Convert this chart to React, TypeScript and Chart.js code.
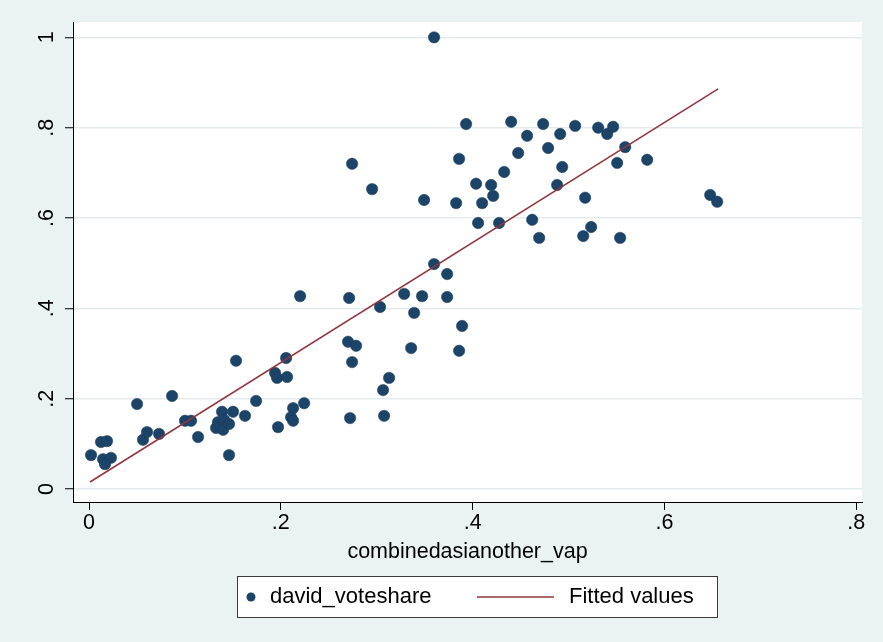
import React, { useEffect, useRef } from 'react';
import { Chart, registerables } from 'chart.js';

Chart.register(...registerables);

// combinedasianother_vap (x) and david_voteshare (y)
const voteX = [
  0.0021, 0.0125, 0.0188, 0.0146, 0.0229, 0.0167, 0.0501, 0.0563, 0.0605, 0.073,
  0.0866, 0.1001, 0.1064, 0.1137, 0.1345, 0.1387, 0.1408, 0.1325, 0.1398, 0.1502,
  0.1627, 0.1742, 0.146, 0.1533, 0.194, 0.1961, 0.2065, 0.2055, 0.1971, 0.2128,
  0.2107, 0.2128, 0.2243, 0.2201, 0.2722, 0.2712, 0.2701, 0.2785, 0.2743, 0.3035,
  0.2743, 0.2952, 0.3077, 0.3066, 0.3129, 0.3286, 0.339, 0.3359, 0.3473, 0.3598,
  0.3494, 0.3598, 0.3734, 0.3734, 0.389, 0.3859, 0.3859, 0.3932, 0.3828, 0.4036,
  0.4193, 0.4214, 0.4099, 0.4057, 0.4276, 0.4329, 0.4402, 0.4475, 0.4568, 0.4621,
  0.4735, 0.4787, 0.4694, 0.4913, 0.4934, 0.4881, 0.5069, 0.5173, 0.5153, 0.5236,
  0.5309, 0.5403, 0.5465, 0.5538, 0.5507, 0.5591, 0.582, 0.6477, 0.655, 0.146,
];
const voteY = [
  0.075, 0.104, 0.106, 0.066, 0.069, 0.055, 0.188, 0.109, 0.126, 0.122,
  0.206, 0.151, 0.151, 0.115, 0.148, 0.171, 0.153, 0.135, 0.131, 0.171,
  0.162, 0.195, 0.075, 0.284, 0.257, 0.246, 0.248, 0.29, 0.137, 0.179,
  0.159, 0.151, 0.19, 0.427, 0.157, 0.423, 0.326, 0.317, 0.281, 0.403,
  0.72, 0.664, 0.162, 0.219, 0.246, 0.432, 0.39, 0.312, 0.427, 1.0,
  0.64, 0.498, 0.476, 0.425, 0.361, 0.306, 0.731, 0.808, 0.633, 0.676,
  0.673, 0.649, 0.633, 0.589, 0.589, 0.702, 0.813, 0.744, 0.782, 0.596,
  0.808, 0.755, 0.556, 0.786, 0.713, 0.673, 0.804, 0.645, 0.56, 0.58,
  0.8, 0.786, 0.802, 0.556, 0.722, 0.757, 0.729, 0.651, 0.636, 0.144,
];

// Fitted values (endpoints of the regression line)
const fitX = [0.001, 0.656];
const fitY = [0.0155, 0.886];

const xTicks = [0, 0.2, 0.4, 0.6, 0.8];
const yTicks = [0, 0.2, 0.4, 0.6, 0.8, 1];
const xTitle = 'combinedasianother_vap';
const seriesLabels = ['david_voteshare', 'Fitted values'];

const NAVY = '#1c4468';
const MAROON = '#90353b';
const OUTER = '#eaf2f3';
const GRID = '#e3ebee';
const FONT = "'Liberation Sans', Arial, Helvetica, sans-serif";
const FSIZE = 21.5;
const LSIZE = 22;

const fmt = (v: number) => {
  const s = String(Number(v.toFixed(2)));
  return s.startsWith('0.') ? s.slice(1) : s;
};

export default function App() {
  const ref = useRef<HTMLCanvasElement | null>(null);

  useEffect(() => {
    const canvas = ref.current;
    if (!canvas) return;

    const bgPlugin = {
      id: 'stataBg',
      beforeDraw(chart: any) {
        const { ctx, chartArea } = chart;
        ctx.save();
        ctx.fillStyle = OUTER;
        ctx.fillRect(0, 0, chart.width, chart.height);
        ctx.fillStyle = '#ffffff';
        ctx.fillRect(chartArea.left, chartArea.top, chartArea.right - chartArea.left, chartArea.bottom - chartArea.top);
        ctx.restore();
      },
      afterDraw(chart: any) {
        const { ctx, chartArea, scales } = chart;
        const ys = scales.y;
        ctx.save();
        ctx.fillStyle = '#000';
        ctx.font = `${FSIZE}px ${FONT}`;
        // rotated y tick labels
        for (const v of yTicks) {
          const py = ys.getPixelForValue(v);
          ctx.save();
          ctx.translate(53, py);
          ctx.rotate(-Math.PI / 2);
          ctx.textAlign = 'center';
          ctx.textBaseline = 'alphabetic';
          ctx.fillText(fmt(v), 0, 0);
          ctx.restore();
        }
        // x axis title
        ctx.textAlign = 'center';
        ctx.textBaseline = 'middle';
        ctx.fillText(xTitle, (chartArea.left + chartArea.right) / 2, 552);

        // legend box
        const lx = 237.5, ly = 576.5, lw = 480, lh = 41;
        ctx.fillStyle = '#ffffff';
        ctx.fillRect(lx, ly, lw, lh);
        ctx.strokeStyle = '#3a3a3a';
        ctx.lineWidth = 1;
        ctx.strokeRect(lx, ly, lw, lh);
        const cy = ly + lh / 2;
        ctx.fillStyle = NAVY;
        ctx.beginPath();
        ctx.arc(251, cy, 4.5, 0, Math.PI * 2);
        ctx.fill();
        ctx.font = `${LSIZE}px ${FONT}`;
        ctx.fillStyle = '#000';
        ctx.textAlign = 'left';
        ctx.fillText(seriesLabels[0], 270, cy);
        ctx.strokeStyle = MAROON;
        ctx.lineWidth = 1.5;
        ctx.beginPath();
        ctx.moveTo(477, cy);
        ctx.lineTo(554, cy);
        ctx.stroke();
        ctx.fillStyle = '#000';
        ctx.fillText(seriesLabels[1], 569, cy);
        ctx.restore();
      },
    };

    const chart = new Chart(canvas, {
      type: 'scatter',
      data: {
        datasets: [
          {
            type: 'line',
            label: seriesLabels[1],
            data: fitX.map((x, i) => ({ x, y: fitY[i] })),
            borderColor: MAROON,
            borderWidth: 1.5,
            pointRadius: 0,
            fill: false,
            tension: 0,
            order: 0,
          },
          {
            type: 'scatter',
            label: seriesLabels[0],
            data: voteX.map((x, i) => ({ x, y: voteY[i] })),
            pointRadius: 5.7,
            pointBackgroundColor: NAVY,
            pointBorderColor: '#163a5a',
            pointBorderWidth: 0.5,
            order: 1,
          },
        ],
      } as any,
      options: {
        responsive: false,
        animation: false,
        devicePixelRatio: 1,
        layout: { padding: { top: 22, right: 21, left: 0, bottom: 0 } },
        plugins: {
          legend: { display: false },
          tooltip: { enabled: false },
          title: { display: false },
        },
        scales: {
          x: {
            type: 'linear',
            min: -0.0167,
            max: 0.806,
            afterBuildTicks: (s: any) => {
              s.ticks = xTicks.map((v) => ({ value: v }));
            },
            afterFit: (s: any) => {
              s.height = 140;
            },
            grid: {
              drawOnChartArea: false,
              drawTicks: true,
              tickLength: 8,
              tickColor: '#000',
              color: '#000',
            },
            border: { display: true, color: '#000', width: 1 },
            ticks: {
              callback: (v: any) => fmt(Number(v)),
              color: '#000',
              font: { family: FONT, size: FSIZE },
              padding: 0,
              maxRotation: 0,
              autoSkip: false,
            },
          },
          y: {
            type: 'linear',
            min: -0.0288,
            max: 1.034,
            afterBuildTicks: (s: any) => {
              s.ticks = yTicks.map((v) => ({ value: v }));
            },
            afterFit: (s: any) => {
              s.width = 73;
            },
            grid: {
              color: GRID,
              lineWidth: 1.5,
              drawTicks: true,
              tickLength: 8,
              tickColor: '#000',
              tickWidth: 1,
            },
            border: { display: true, color: '#000', width: 1 },
            ticks: { display: false },
          },
        },
      } as any,
      plugins: [bgPlugin],
    });

    return () => chart.destroy();
  }, []);

  return (
    <div style={{ position: 'absolute', left: 0, top: 0, width: 883, height: 642, background: OUTER }}>
      <canvas ref={ref} width={883} height={642} style={{ display: 'block', width: 883, height: 642 }} />
    </div>
  );
}
